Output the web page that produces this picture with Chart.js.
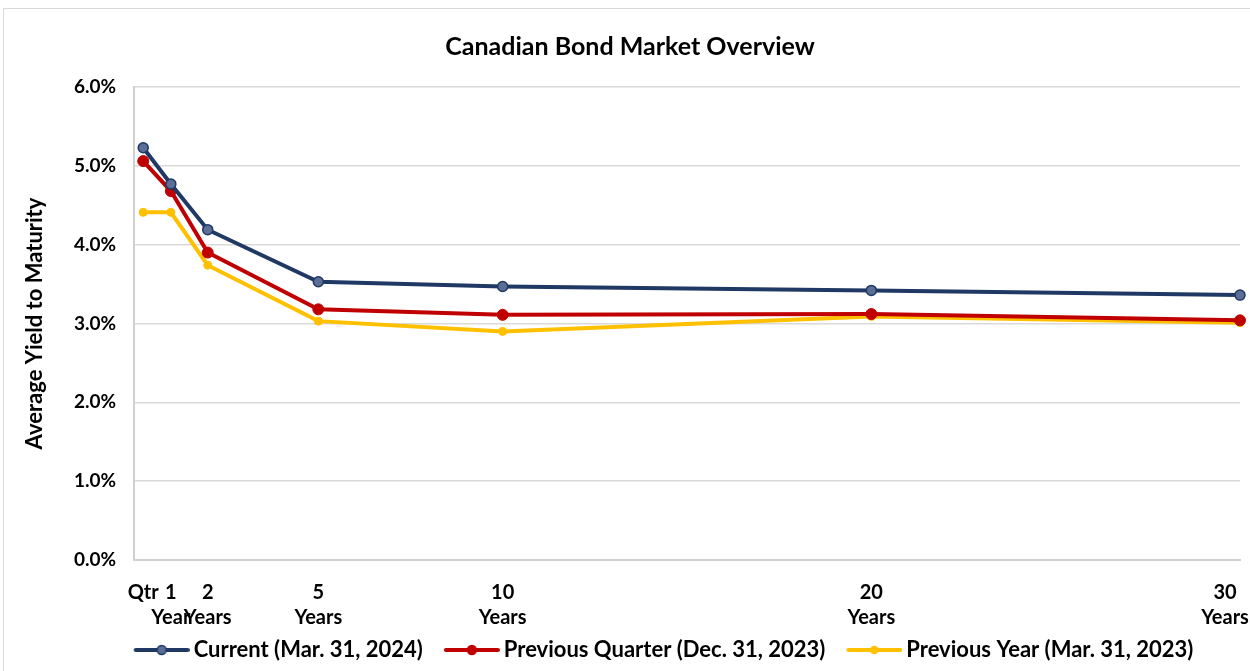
<!DOCTYPE html>
<html>
<head>
<meta charset="utf-8">
<script src="https://cdn.jsdelivr.net/npm/chart.js@4"></script>
<style>
  html, body { margin: 0; padding: 0; background: #fff; }
  #wrap { position: relative; width: 1250px; height: 671px; overflow: hidden; }
  #frame { position: absolute; left: 3px; top: 8px; width: 1260px; height: 680px; border: 1px solid #d9d9d9; }
  #chartBox { position: absolute; left: 0; top: 0; width: 1250px; height: 671px; }
</style>
</head>
<body>
<div id="wrap">
  <div id="frame"></div>
  <div id="chartBox"><canvas id="bondChart"></canvas></div>
</div>
<script>
// Maturities in years (Qtr = 0.25)
const maturities = [0.25, 1, 2, 5, 10, 20, 30];
const tickLabels = [["Qtr"], ["1", "Year"], ["2", "Years"], ["5", "Years"], ["10", "Years"], ["20", "Years"], ["30", "Years"]];
const yTicks = [0, 1, 2, 3, 4, 5, 6];

// Average yield to maturity (%)
const current = [5.23, 4.77, 4.19, 3.53, 3.47, 3.42, 3.36];
const prevQuarter = [5.06, 4.68, 3.90, 3.18, 3.11, 3.12, 3.04];
const prevYear = [4.41, 4.41, 3.74, 3.03, 2.90, 3.09, 3.01];

const seriesNames = ["Current (Mar. 31, 2024)", "Previous Quarter (Dec. 31, 2023)", "Previous Year (Mar. 31, 2023)"];

const FONT = "Lato, 'Open Sans', sans-serif";
const navy = "#203864", red = "#c00000", gold = "#ffc000";

// legend swatch: line with a marker, drawn in the right part of the image
function swatch(lineColor, fill, border, r) {
  const c = document.createElement("canvas");
  c.width = 74; c.height = 14;
  const g = c.getContext("2d");
  g.strokeStyle = lineColor; g.lineWidth = 4; g.lineCap = "round";
  g.beginPath(); g.moveTo(20, 7); g.lineTo(72, 7); g.stroke();
  g.beginPath(); g.arc(46, 7, r, 0, Math.PI * 2);
  g.fillStyle = fill; g.fill();
  g.lineWidth = 1.5; g.strokeStyle = border; g.stroke();
  return c;
}
const swatches = [
  swatch(navy, "#5b6f96", navy, 4.5),
  swatch(red, red, red, 4.5),
  swatch(gold, gold, gold, 3.5)
];

// nudge the bottom legend to the right, like the original
const legendShift = {
  id: "legendShift",
  afterLayout(chart) {
    if (chart.legend) { chart.legend.left += 28; chart.legend.right += 28; }
  }
};

const pts = arr => arr.map((v, i) => ({ x: maturities[i], y: v }));

new Chart(document.getElementById("bondChart"), {
  type: "line",
  data: {
    datasets: [
      { label: seriesNames[0], data: pts(current), borderColor: navy, borderWidth: 4,
        pointRadius: 5, pointBackgroundColor: "#5b6f96", pointBorderColor: navy, pointBorderWidth: 1.5, tension: 0, clip: false },
      { label: seriesNames[1], data: pts(prevQuarter), borderColor: red, borderWidth: 4,
        pointRadius: 5.5, pointBackgroundColor: red, pointBorderColor: red, pointBorderWidth: 1, tension: 0, clip: false },
      { label: seriesNames[2], data: pts(prevYear), borderColor: gold, borderWidth: 4,
        pointRadius: 4, pointBackgroundColor: gold, pointBorderColor: gold, pointBorderWidth: 1, tension: 0, clip: false }
    ]
  },
  plugins: [legendShift],
  options: {
    responsive: true,
    maintainAspectRatio: false,
    animation: false,
    layout: { padding: { left: 10, right: 0, top: 32, bottom: 0 } },
    plugins: {
      title: {
        display: true,
        text: "Canadian Bond Market Overview",
        color: "#000",
        font: { family: FONT, size: 25, weight: "bold", lineHeight: 1.2 },
        padding: { top: 0, bottom: 25 }
      },
      legend: {
        position: "bottom",
        labels: {
          color: "#000",
          font: { family: FONT, size: 22, weight: "bold" },
          usePointStyle: true,
          pointStyleWidth: 60,
          padding: 10,
          generateLabels: chart => chart.data.datasets.map((ds, i) => ({
            text: ds.label,
            pointStyle: swatches[i],
            fontColor: "#000",
            strokeStyle: "transparent",
            fillStyle: "transparent",
            lineWidth: 0,
            datasetIndex: i
          }))
        }
      },
      tooltip: { enabled: false }
    },
    scales: {
      x: {
        type: "linear",
        min: 0,
        max: 30,
        afterBuildTicks: scale => { scale.ticks = maturities.map(v => ({ value: v })); },
        afterFit: scale => { scale.height = 69; scale.paddingRight = 10; },
        ticks: {
          autoSkip: false,
          maxRotation: 0,
          color: "#000",
          padding: 12,
          font: { family: FONT, size: 20, weight: "bold", lineHeight: 1.25 },
          // last label sits left of its tick in the original
          callback: (v, i) => i === tickLabels.length - 1
            ? tickLabels[i].map(s => s + "\u2003\u2003")
            : tickLabels[i]
        },
        grid: { display: false },
        border: { display: true, color: "#d0d0d0", width: 2 }
      },
      y: {
        min: 0,
        max: 6,
        afterBuildTicks: scale => { scale.ticks = yTicks.map(v => ({ value: v })); },
        afterFit: scale => { scale.width = 124; },
        ticks: {
          color: "#000",
          padding: 18,
          font: { family: FONT, size: 19, weight: "bold" },
          callback: v => v.toFixed(1) + "%"
        },
        grid: { color: "#d9d9d9", lineWidth: 1.5, drawTicks: false },
        border: { display: true, color: "#d0d0d0", width: 2 },
        title: {
          display: true,
          text: "Average Yield to Maturity",
          color: "#000",
          font: { family: FONT, size: 22, weight: "bold" },
          padding: { top: 12, bottom: 0 }
        }
      }
    }
  }
});
</script>
</body>
</html>
